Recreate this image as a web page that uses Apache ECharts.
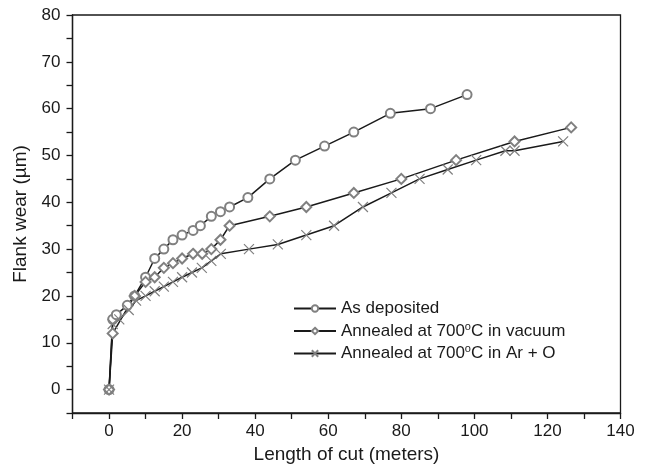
<!DOCTYPE html>
<html>
<head>
<meta charset="utf-8">
<script src="https://cdn.jsdelivr.net/npm/echarts@6/dist/echarts.min.js"></script>
<style>
html,body{margin:0;padding:0;background:#fff;}
#chart{width:648px;height:469px;}
</style>
</head>
<body>
<div id="chart"></div>
<script>
let depX = [0,1,2,5,7,10,12.5,15,17.5,20,23,25,28,30.5,33,38,44,51,59,67,77,88,98];
let depY = [0,15,16,18,20,24,28,30,32,33,34,35,37,38,39,41,45,49,52,55,59,60,63];

let vacX = [0,1,7,10,12.5,15,17.5,20,23,25.5,28,30.5,33,44,54,67,80,95,111,126.5];
let vacY = [0,12,20,23,24,26,27,28,29,29,30,32,35,37,39,42,45,49,53,56];

let arX = [0,1,2.8,5.4,7.4,10,12.5,15,17.5,20,22.7,25.4,28,30.6,38.3,46.2,54,61.6,69.5,77.3,85,92.7,100.5,108.5,111,124.3];
let arY = [0,14,15,17,19,20,21,22,23,24,25,26,27.5,29,30,31,33,35,39,42,45,47,49,51,51,53];

let names = ["As deposited","Annealed at 700°C in vacuum","Annealed at 700°C in Ar + O"];

let pairs = (xs,ys) => xs.map((x,i)=>[x,ys[i]]);
let crossPath = 'path://M0,0L10,10M10,0L0,10';

let chart = echarts.init(document.getElementById("chart"));

let mkSeries = function(name, data, symbol, size){
	return {
		name:name,
		type:'line',
		data:data,
		symbol:symbol,
		symbolSize:size,
		showAllSymbol:true,
		lineStyle:{color:'#1a1a1a',width:1.5},
		itemStyle:{color:'#808080',borderColor:'#808080',borderWidth:1.2},
		emphasis:{disabled:true},
		z:2
	};
};

let opt = {
	animation:false,
	grid:{left:72.5,right:27.5,top:15,bottom:56,show:true,borderColor:'#1a1a1a',borderWidth:1.3},
	legend:{
		orient:'vertical',
		left:288,
		top:295,
		itemWidth:42,
		itemHeight:8,
		itemGap:4,
		data:names,
		formatter:function(n){
			if(n.indexOf('700°C')<0) return '{n|'+n+'}';
			let p = n.split('°');
			return '{n|'+p[0]+'}{s|o}{n|'+p[1]+'}';
		},
		textStyle:{
			color:'#1a1a1a',
			fontFamily:'Liberation Sans',
			fontSize:17,
			rich:{
				n:{fontSize:17,fontFamily:'Liberation Sans',color:'#1a1a1a'},
				s:{fontSize:11,fontFamily:'Liberation Sans',color:'#1a1a1a',padding:[0,0,9,0]}
			}
		}
	},
	xAxis:{
		type:'value',
		min:-10,max:140,interval:10,
		name:'Length of cut (meters)',
		nameLocation:'middle',
		nameGap:31,
		nameTextStyle:{fontSize:19,fontFamily:'Liberation Sans',color:'#1a1a1a'},
		splitLine:{show:false},
		axisLine:{onZero:false,lineStyle:{color:'#1a1a1a',width:1.3}},
		axisTick:{inside:false,length:6,lineStyle:{color:'#1a1a1a',width:1.3}},
		axisLabel:{
			fontSize:17,fontFamily:'Liberation Sans',color:'#1a1a1a',margin:10,
			formatter:function(v){return (v%20===0 && v>=0)? String(v):'';}
		}
	},
	yAxis:{
		type:'value',
		min:-5,max:80,interval:5,
		name:'Flank wear (µm)',
		nameLocation:'middle',
		nameGap:40,
		nameTextStyle:{fontSize:19,fontFamily:'Liberation Sans',color:'#1a1a1a'},
		splitLine:{show:false},
		axisLine:{onZero:false,lineStyle:{color:'#1a1a1a',width:1.3}},
		axisTick:{inside:false,length:6,lineStyle:{color:'#1a1a1a',width:1.3}},
		axisLabel:{
			fontSize:17,fontFamily:'Liberation Sans',color:'#1a1a1a',margin:12,
			formatter:function(v){return (v%10===0 && v>=0)? String(v):'';}
		}
	},
	series:[
		mkSeries(names[0], pairs(depX,depY), 'emptyCircle', 9),
		mkSeries(names[1], pairs(vacX,vacY), 'emptyDiamond', 10),
		mkSeries(names[2], pairs(arX,arY), crossPath, 10)
	]
};
chart.setOption(opt);
</script>
</body>
</html>
